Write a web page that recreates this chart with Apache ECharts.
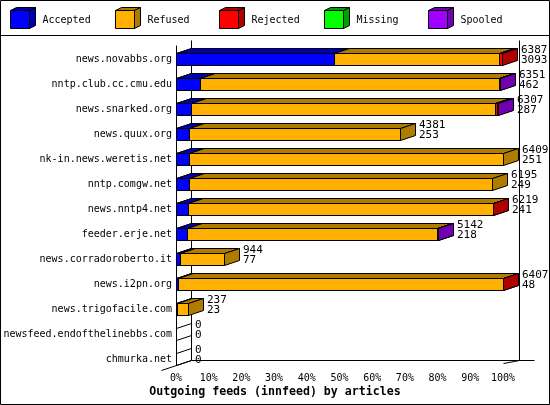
<!DOCTYPE html>
<html>
<head>
<meta charset="utf-8">
<script src="https://cdn.jsdelivr.net/npm/echarts@6/dist/echarts.min.js"></script>
<style>
html,body{margin:0;padding:0;background:#fff;}
#chart{width:550px;height:405px;}
</style>
</head>
<body>
<div id="chart"></div>
<script>
// ---- data ----
const categories = [
  'news.novabbs.org', 'nntp.club.cc.cmu.edu', 'news.snarked.org', 'news.quux.org',
  'nk-in.news.weretis.net', 'nntp.comgw.net', 'news.nntp4.net', 'feeder.erje.net',
  'news.corradoroberto.it', 'news.i2pn.org', 'news.trigofacile.com',
  'newsfeed.endofthelinebbs.com', 'chmurka.net'
];
const offered  = [6387, 6351, 6307, 4381, 6409, 6195, 6219, 5142, 944, 6407, 237, 0, 0];
const accepted = [3093, 462, 287, 253, 251, 249, 241, 218, 77, 48, 23, 0, 0];
const refused  = [3234, 5870, 5965, 4128, 6158, 5946, 5968, 4892, 867, 6354, 214, 0, 0];
const rejected = [60, 4, 40, 0, 0, 0, 10, 25, 0, 5, 0, 0, 0];
const missing  = [0, 0, 0, 0, 0, 0, 0, 0, 0, 0, 0, 0, 0];
const spooled  = [0, 15, 15, 0, 0, 0, 0, 7, 0, 0, 0, 0, 0];
const seriesNames = ['Accepted', 'Refused', 'Rejected', 'Missing', 'Spooled'];
const xTicks = [0, 10, 20, 30, 40, 50, 60, 70, 80, 90, 100];
const titleText = 'Outgoing feeds (innfeed) by articles';

// ---- styles ----
const frontColors = ['#0000FF', '#FFB000', '#FF0000', '#00FF00', '#A000FF'];
const darkColors  = ['#0000B0', '#B07C00', '#B00000', '#00A000', '#7000B0'];
const FONT = '"DejaVu Sans Mono", "Liberation Mono", monospace';
const DX = 15, DY = 5, HALF = 6;

const seriesValues = [accepted, refused, rejected, missing, spooled];
const maxTotal = Math.max.apply(null, offered);
const toPct = v => v / maxTotal * 100;

function px(v) { return Math.round(v) + 0.5; }

function barRenderer(color, dark) {
  return function (params, api) {
    const idx = api.value(0), s = api.value(1), e = api.value(2);
    if (!(e > s)) return null;
    const c0 = api.coord([s, idx]), c1 = api.coord([e, idx]);
    const xs = px(c0[0]), xe = px(c1[0]);
    const cy = Math.round(c0[1]);
    const top = cy - HALF + 0.5, bot = cy + HALF + 0.5;
    const st = { stroke: '#000', lineWidth: 1 };
    return {
      type: 'group',
      children: [
        { type: 'polygon', shape: { points: [[xs, top], [xe, top], [xe + DX, top - DY], [xs + DX, top - DY]] },
          style: Object.assign({ fill: dark }, st) },
        { type: 'polygon', shape: { points: [[xe, top], [xe + DX, top - DY], [xe + DX, bot - DY], [xe, bot]] },
          style: Object.assign({ fill: dark }, st) },
        { type: 'rect', shape: { x: xs, y: top, width: xe - xs, height: bot - top },
          style: Object.assign({ fill: color }, st) }
      ]
    };
  };
}

const barSeries = seriesNames.map((name, k) => {
  const data = categories.map((c, i) => {
    let start = 0;
    for (let j = 0; j < k; j++) start += seriesValues[j][i];
    const end = start + seriesValues[k][i];
    return [i, toPct(start), toPct(end)];
  });
  return {
    type: 'custom', name: name, data: data, clip: false, silent: true, z: 3,
    encode: { x: [1, 2], y: 0 },
    renderItem: barRenderer(frontColors[k], darkColors[k])
  };
});

const frameSeries = {
  type: 'custom', name: 'frame', clip: false, silent: true, z: 2,
  data: categories.map((c, i) => [0, i]),
  encode: { x: 0, y: 1 },
  renderItem: function (params, api) {
    const idx = api.value(1);
    const c = api.coord([0, idx]);
    const x0 = px(c[0]);
    const cy = Math.round(c[1]);
    const top = cy - HALF + 0.5, bot = cy + HALF + 0.5;
    const ls = { stroke: '#000', lineWidth: 1 };
    const children = [
      { type: 'line', shape: { x1: x0, y1: top, x2: x0 + DX, y2: top - DY }, style: ls },
      { type: 'line', shape: { x1: x0, y1: bot, x2: x0 + DX, y2: bot - DY }, style: ls }
    ];
    if (idx === 0) {
      const first = api.coord([0, 0]);
      const last = api.coord([100, categories.length - 1]);
      const x1 = px(last[0]);
      const fTop = Math.round(first[1]) - HALF - 8 + 0.5;
      const fBot = Math.round(last[1]) + HALF + 0.5;
      children.push(
        { type: 'line', shape: { x1: x0, y1: fTop, x2: x0, y2: fBot }, style: ls },
        { type: 'line', shape: { x1: x0 + DX, y1: fTop - DY, x2: x0 + DX, y2: fBot - DY }, style: ls },
        { type: 'line', shape: { x1: x0 - DX, y1: fBot + DY, x2: x0 + DX, y2: fBot - DY }, style: ls },
        { type: 'line', shape: { x1: x0 + DX, y1: fBot - DY, x2: x1 + 31, y2: fBot - DY }, style: ls },
        { type: 'line', shape: { x1: x1 + 16, y1: fTop - DY, x2: x1 + 16, y2: fBot - DY }, style: ls },
        { type: 'line', shape: { x1: x1, y1: fBot - 2, x2: x1 + 16, y2: fBot - DY }, style: ls }
      );
    }
    return { type: 'group', children: children };
  }
};

const labelSeries = {
  type: 'custom', name: 'labels', clip: false, silent: true, z: 4,
  data: categories.map((c, i) => [toPct(offered[i]), i, offered[i], accepted[i]]),
  encode: { x: 0, y: 1 },
  renderItem: function (params, api) {
    const c = api.coord([api.value(0), api.value(1)]);
    const x = Math.round(c[0]) + DX + 4;
    const top = Math.round(c[1]) - HALF;
    const ts = { fill: '#000', font: '11px ' + FONT, textAlign: 'left', textVerticalAlign: 'middle' };
    return {
      type: 'group',
      children: [
        { type: 'text', x: x, y: top - 3, style: Object.assign({ text: String(api.value(2)) }, ts) },
        { type: 'text', x: x, y: top + 7, style: Object.assign({ text: String(api.value(3)) }, ts) }
      ]
    };
  }
};

// legend drawn as graphic (3D cubes + real text)
const legendGraphics = seriesNames.map((name, i) => {
  const x = Math.round(10 + i * 104.6) + 0.5, y = 10.5, w = 19, h = 18, d = 6, dd = 3;
  return {
    type: 'group', silent: true,
    children: [
      { type: 'polygon', shape: { points: [[x, y], [x + w, y], [x + w + d, y - dd], [x + d, y - dd]] },
        style: { fill: darkColors[i], stroke: '#000', lineWidth: 1 } },
      { type: 'polygon', shape: { points: [[x + w, y], [x + w + d, y - dd], [x + w + d, y + h - dd], [x + w, y + h]] },
        style: { fill: darkColors[i], stroke: '#000', lineWidth: 1 } },
      { type: 'rect', shape: { x: x, y: y, width: w, height: h },
        style: { fill: frontColors[i], stroke: '#000', lineWidth: 1 } },
      { type: 'text', x: x + 32, y: 20, style: { text: name, fill: '#000', font: '10px ' + FONT, textVerticalAlign: 'middle' } }
    ]
  };
});

const chart = echarts.init(document.getElementById('chart'), null, { renderer: 'canvas' });
chart.setOption({
  animation: false,
  backgroundColor: '#fff',
  title: {
    text: titleText, left: 'center', top: 386, padding: 0,
    textStyle: { fontFamily: FONT, fontWeight: 'bold', fontSize: 11.6, color: '#000' }
  },
  grid: { left: 176, right: 47, top: 46.5, bottom: 33.5, containLabel: false, outerBoundsMode: 'none' },
  xAxis: {
    type: 'value', min: xTicks[0], max: xTicks[xTicks.length - 1], interval: xTicks[1] - xTicks[0],
    axisLine: { show: false }, axisTick: { show: false }, splitLine: { show: false },
    axisLabel: { formatter: '{value}%', margin: 2, color: '#000', fontFamily: FONT, fontSize: 10 }
  },
  yAxis: {
    type: 'category', data: categories, inverse: true,
    axisLine: { show: false }, axisTick: { show: false }, splitLine: { show: false },
    axisLabel: { margin: 4, color: '#000', fontFamily: FONT, fontSize: 10 }
  },
  graphic: [
    { type: 'rect', silent: true, shape: { x: 0.5, y: 0.5, width: 549, height: 404 },
      style: { fill: 'none', stroke: '#000', lineWidth: 1 } },
    { type: 'line', silent: true, shape: { x1: 0, y1: 35.5, x2: 550, y2: 35.5 },
      style: { stroke: '#000', lineWidth: 1 } }
  ].concat(legendGraphics),
  series: [frameSeries].concat(barSeries, [labelSeries])
});
</script>
</body>
</html>
